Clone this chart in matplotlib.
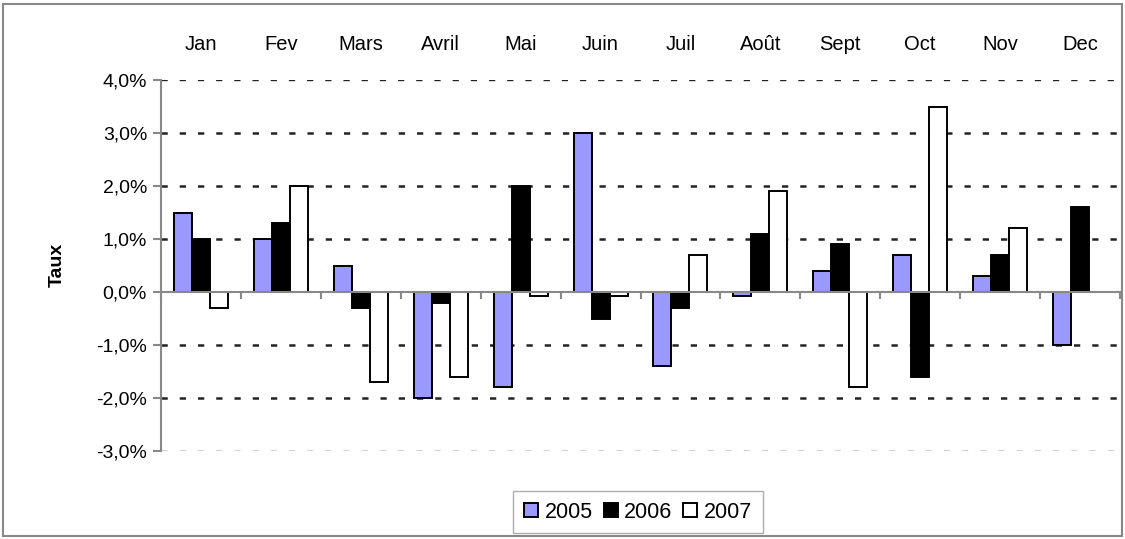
import matplotlib
matplotlib.use("Agg")
import matplotlib.pyplot as plt
import numpy as np
from matplotlib.patches import Rectangle
from matplotlib.transforms import blended_transform_factory

months = ["Jan", "Fev", "Mars", "Avril", "Mai", "Juin", "Juil", "Août", "Sept", "Oct", "Nov", "Dec"]
years = ["2005", "2006", "2007"]
v2005 = [1.5, 1.0, 0.5, -2.0, -1.8, 3.0, -1.4, -0.08, 0.4, 0.7, 0.3, -1.0]
v2006 = [1.0, 1.3, -0.3, -0.2, 2.0, -0.5, -0.3, 1.1, 0.9, -1.6, 0.7, 1.6]
v2007 = [-0.3, 2.0, -1.7, -1.6, -0.08, -0.08, 0.7, 1.9, -1.8, 3.5, 1.2, 0.0]
yticks = [4, 3, 2, 1, 0, -1, -2, -3]
ytick_labels = ["4,0%", "3,0%", "2,0%", "1,0%", "0,0%", "-1,0%", "-2,0%", "-3,0%"]

plt.rcParams['font.family'] = ['Liberation Sans', 'DejaVu Sans']

fig = plt.figure(figsize=(11.25, 5.39), dpi=100)
ax = fig.add_axes([161/1125, 1-451/539, (1120-161)/1125, (451-80)/539])

n = len(months)
x = np.arange(n)
w = 0.225
colors = ["#9999FF", "#000000", "#FFFFFF"]
series = [v2005, v2006, v2007]
handles = []
for i, (vals, c, lab) in enumerate(zip(series, colors, years)):
    b = ax.bar(x + (i - 1) * w, vals, width=w, color=c, edgecolor="black",
               linewidth=1.4, label=lab, zorder=3)
    handles.append(b)

ax.set_xlim(-0.5, n - 0.5)
ax.set_ylim(-3, 4)

# gridlines
for yv in yticks:
    if yv == 0:
        continue
    if yv in (4, -3):
        ax.axhline(yv, color="#222222", linewidth=1.0, linestyle=(0, (4.5, 8.6)), zorder=1)
    else:
        ax.axhline(yv, color="#222222", linewidth=1.8, linestyle=(0, (2.5, 4.8)), zorder=1)

for s in ["top", "right"]:
    ax.spines[s].set_visible(False)
ax.spines["left"].set_color("#888888")
ax.spines["left"].set_linewidth(1.5)
ax.spines["bottom"].set_position(("data", 0))
ax.spines["bottom"].set_color("#888888")
ax.spines["bottom"].set_linewidth(1.5)
ax.spines["bottom"].set_zorder(4)

ax.set_yticks(yticks)
ax.set_yticklabels(ytick_labels, fontsize=14)
ax.tick_params(axis="y", colors="#888888", length=6, width=1.5, labelcolor="black", pad=4)
ax.set_xticks(np.arange(-0.5, n, 1.0))
ax.set_xticklabels([])
ax.tick_params(axis="x", colors="#888888", length=5, width=1.5, direction="out")

trans = blended_transform_factory(ax.transData, fig.transFigure)
for xi, m in zip(x, months):
    ax.text(xi, 1 - 45/539, m, transform=trans, ha="center", va="center", fontsize=14.5)

fig.text(57/1125, 1 - 265/539, "Taux", rotation=90, ha="center", va="center",
         fontsize=14, fontweight="bold")

leg = fig.legend(handles=handles, labels=years, loc="center",
                 bbox_to_anchor=(638/1125, 1 - 512/539), ncol=3, fontsize=15.5,
                 frameon=True, fancybox=False, edgecolor="#999999",
                 handlelength=0.65, handleheight=0.65, handletextpad=0.3,
                 columnspacing=0.5, borderpad=0.5)
leg.get_frame().set_linewidth(1.0)

fig.patches.append(Rectangle((3/1125, 3/539), 1119/1125, 532/539, transform=fig.transFigure,
                             fill=False, edgecolor="#888888", linewidth=1.5))

fig.savefig("out.png", dpi=100)
